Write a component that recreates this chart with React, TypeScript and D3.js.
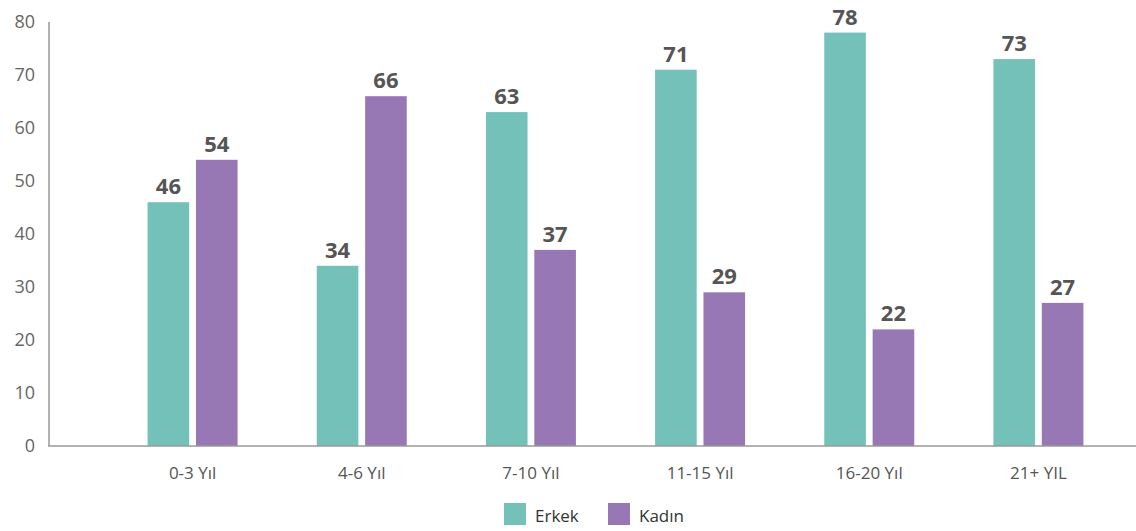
import * as d3 from 'd3';
import React, { useRef, useEffect } from 'react';

const categories = ['0-3 Yıl', '4-6 Yıl', '7-10 Yıl', '11-15 Yıl', '16-20 Yıl', '21+ YIL'];
const seriesNames = ['Erkek', 'Kadın'];
const erkek = [46, 34, 63, 71, 78, 73];
const kadin = [54, 66, 37, 29, 22, 27];
const colors = ['#74c1b9', '#9778b4'];
const yTicks = [0, 10, 20, 30, 40, 50, 60, 70, 80];

const width = 1136;
const height = 531;
const font = '"Open Sans", "Noto Sans", sans-serif';

function App() {
    const ref = useRef<SVGSVGElement>(null);

    useEffect(() => {
        const svg = d3.select(ref.current);
        svg.selectAll('*').remove();

        const values = [erkek, kadin];

        // scales
        const x0 = d3.scaleBand().domain(categories).range([108, 1123]);
        const x1 = d3.scaleBand().domain(seriesNames).range([-45, 45]).paddingInner(0.14);
        const y = d3.scaleLinear().domain([0, 80]).range([446, 22]);

        // y tick labels
        svg.append('g')
            .selectAll('text')
            .data(yTicks)
            .join('text')
            .attr('x', 35)
            .attr('y', d => y(d))
            .attr('dy', '0.35em')
            .attr('text-anchor', 'end')
            .style('font-family', font)
            .style('font-size', '18px')
            .style('fill', '#666')
            .text(d => d);

        // bars
        const groups = svg.append('g')
            .selectAll('g')
            .data(categories)
            .join('g')
            .attr('transform', d => 'translate(' + (x0(d)! + x0.bandwidth() / 2) + ',0)');

        groups.selectAll('rect')
            .data((d, i) => seriesNames.map((s, j) => ({ s, v: values[j][i], j })))
            .join('rect')
            .attr('x', d => x1(d.s)!)
            .attr('width', x1.bandwidth())
            .attr('y', d => y(d.v))
            .attr('height', d => y(0) - y(d.v))
            .style('fill', d => colors[d.j]);

        groups.selectAll('text.val')
            .data((d, i) => seriesNames.map((s, j) => ({ s, v: values[j][i] })))
            .join('text')
            .attr('class', 'val')
            .attr('x', d => x1(d.s)! + x1.bandwidth() / 2)
            .attr('y', d => y(d.v) - 8)
            .attr('text-anchor', 'middle')
            .style('font-family', font)
            .style('font-size', '22px')
            .style('font-weight', 'bold')
            .style('fill', '#555')
            .text(d => d.v);

        // category labels
        groups.append('text')
            .attr('y', 479)
            .attr('text-anchor', 'middle')
            .style('font-family', font)
            .style('font-size', '17px')
            .style('fill', '#555')
            .text(d => d);

        // axes lines
        svg.append('line')
            .attr('x1', 49).attr('x2', 49)
            .attr('y1', y(80)).attr('y2', y(0))
            .style('stroke', '#999').style('stroke-width', 1.5);
        svg.append('line')
            .attr('x1', 48).attr('x2', width)
            .attr('y1', y(0)).attr('y2', y(0))
            .style('stroke', '#999').style('stroke-width', 1.5);

        // legend
        const legendX = [504, 608];
        const legend = svg.append('g')
            .selectAll('g')
            .data(seriesNames)
            .join('g')
            .attr('transform', (d, i) => 'translate(' + legendX[i] + ',503)');
        legend.append('rect')
            .attr('width', 22).attr('height', 22)
            .style('fill', (d, i) => colors[i]);
        legend.append('text')
            .attr('x', 31).attr('y', 19)
            .style('font-family', font)
            .style('font-size', '17px')
            .style('fill', '#333')
            .text(d => d);
    }, []);

    return (
        <svg ref={ref} width={width} height={height}
            style={{ position: 'absolute', left: 0, top: 0, background: '#fff' }} />
    );
}

export default App;
